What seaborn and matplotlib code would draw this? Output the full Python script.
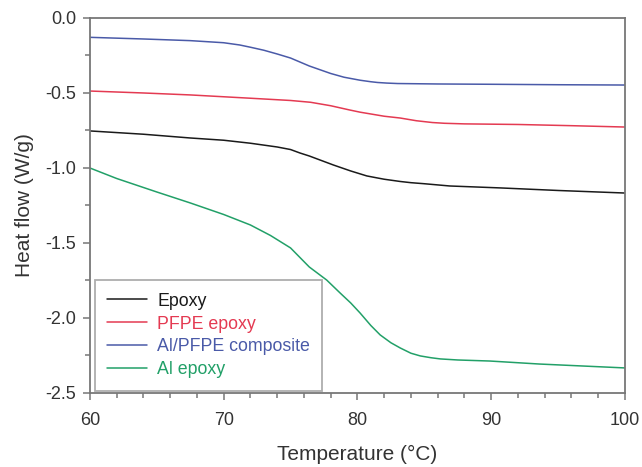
import numpy as np
import pandas as pd
import seaborn as sns
import matplotlib.pyplot as plt
from matplotlib.ticker import MultipleLocator

# Werte
epoxy_T = [60, 64, 67.5, 70, 72, 74, 75, 75.7, 76.4, 77, 78.2, 79.5, 80.7, 81.4, 82, 83.2, 84, 85, 86.9,
           90.7, 95, 100]
epoxy_hf = [-0.753, -0.775, -0.80, -0.815, -0.835, -0.86, -0.877, -0.90, -0.92, -0.94, -0.98, -1.02,
            -1.053, -1.065, -1.075, -1.09, -1.098, -1.105, -1.12, -1.133, -1.15, -1.167]

pfpe_T = [60, 64, 67.5, 72, 75, 76.5, 78, 79.4, 80.2, 81, 82, 83.2, 84.4, 85.6, 86.5, 88, 92, 96, 100]
pfpe_hf = [-0.487, -0.50, -0.513, -0.535, -0.55, -0.562, -0.585, -0.613, -0.628, -0.64, -0.655, -0.667,
           -0.685, -0.697, -0.702, -0.706, -0.71, -0.718, -0.727]

alpfpe_T = [60, 64, 67.5, 70, 71.2, 72, 73, 74, 75, 76.4, 77.2, 78, 79, 80.2, 81, 81.5, 82.2, 83, 86, 90,
            95, 100]
alpfpe_hf = [-0.129, -0.14, -0.151, -0.165, -0.18, -0.195, -0.215, -0.24, -0.267, -0.32, -0.345, -0.37,
             -0.395, -0.415, -0.425, -0.43, -0.434, -0.437, -0.44, -0.442, -0.445, -0.447]

alep_T = [60, 62, 65, 67.5, 70, 72, 73.5, 75, 76.4, 77.7, 78.7, 79.5, 80.2, 81, 81.7, 82.5, 83.2, 84,
          84.7, 85.5, 86.2, 87.5, 89.9, 93.6, 100]
alep_hf = [-1.0, -1.07, -1.16, -1.233, -1.31, -1.38, -1.45, -1.533, -1.66, -1.747, -1.833, -1.90, -1.967,
           -2.05, -2.113, -2.165, -2.20, -2.235, -2.253, -2.265, -2.273, -2.28, -2.287, -2.307, -2.333]

labels = ['Epoxy', 'PFPE epoxy', 'Al/PFPE composite', 'Al epoxy']
colors = ['#1a1a1a', '#e43a52', '#4a5aa8', '#22a068']

df = pd.concat([
    pd.DataFrame({'T': epoxy_T, 'hf': epoxy_hf, 'probe': labels[0]}),
    pd.DataFrame({'T': pfpe_T, 'hf': pfpe_hf, 'probe': labels[1]}),
    pd.DataFrame({'T': alpfpe_T, 'hf': alpfpe_hf, 'probe': labels[2]}),
    pd.DataFrame({'T': alep_T, 'hf': alep_hf, 'probe': labels[3]}),
])

sns.set_style('white')
plt.rcParams['font.family'] = ['Liberation Sans', 'DejaVu Sans']

fig = plt.figure(figsize=(6.42, 4.67), dpi=100)
ax = fig.add_axes([0.140, 0.1585, 0.8335, 0.803])

sns.lineplot(data=df, x='T', y='hf', hue='probe', palette=dict(zip(labels, colors)),
             estimator=None, linewidth=1.1, ax=ax)

ax.set_xlim(60, 100)
ax.set_ylim(-2.5, 0.0)
ax.xaxis.set_major_locator(MultipleLocator(10))
ax.xaxis.set_minor_locator(MultipleLocator(2))
ax.yaxis.set_major_locator(MultipleLocator(0.5))
ax.yaxis.set_minor_locator(MultipleLocator(0.25))
ax.yaxis.set_major_formatter(plt.FormatStrFormatter('%.1f'))

for s in ax.spines.values():
    s.set_color('#777777')
    s.set_linewidth(1.3)
ax.tick_params(which='both', direction='out', colors='#777777', labelcolor='#333333',
               bottom=True, left=True, width=1.1)
ax.tick_params(which='major', length=5, labelsize=13)
ax.tick_params(axis='x', which='major', pad=9)
ax.tick_params(axis='y', which='major', pad=5)
ax.tick_params(which='minor', length=3.5)

ax.set_xlabel('Temperature (\u00b0C)', fontsize=15, color='#333333', labelpad=11)
ax.set_ylabel('Heat flow (W/g)', fontsize=15, color='#333333', labelpad=8)

leg = ax.legend(loc='lower left', bbox_to_anchor=(0.009, 0.006), fontsize=12.8, frameon=True,
                fancybox=False, edgecolor='#999999', borderpad=0.7, handlelength=2.25,
                handletextpad=0.56, labelspacing=0.33, borderaxespad=0)
leg.get_frame().set_linewidth(1.3)
for txt, c in zip(leg.get_texts(), colors):
    txt.set_color(c)

plt.savefig('out.png', dpi=100)
